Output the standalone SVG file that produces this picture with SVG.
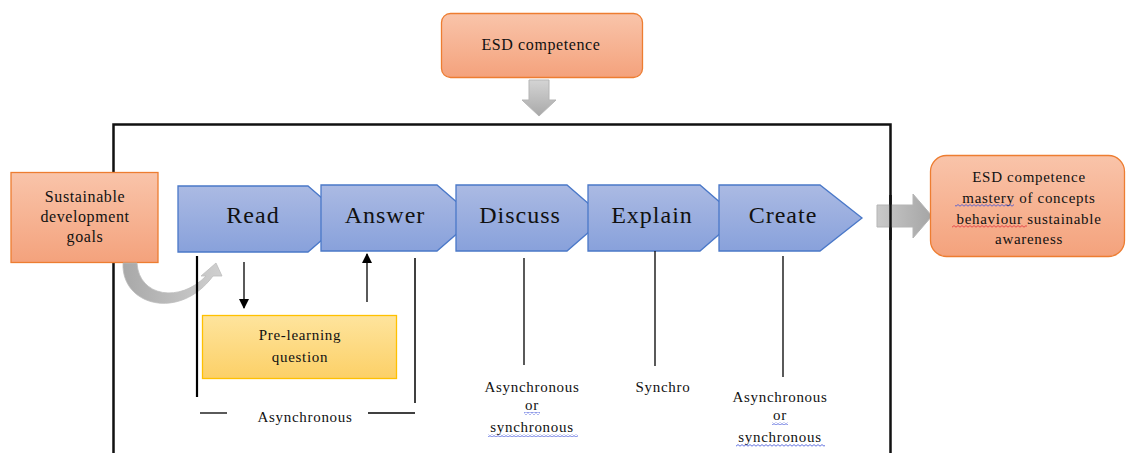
<svg xmlns="http://www.w3.org/2000/svg" width="1126" height="453" viewBox="0 0 1126 453">
<defs>
<linearGradient id="gOr" x1="0" y1="0" x2="0" y2="1"><stop offset="0" stop-color="#f9c4aa"/><stop offset="1" stop-color="#f4a27c"/></linearGradient>
<linearGradient id="gBl" x1="0" y1="0" x2="0" y2="1"><stop offset="0" stop-color="#abbae3"/><stop offset="1" stop-color="#88a1db"/></linearGradient>
<linearGradient id="gYe" x1="0" y1="0" x2="0" y2="1"><stop offset="0" stop-color="#fee49d"/><stop offset="1" stop-color="#fcd067"/></linearGradient>
<linearGradient id="gGr" x1="0" y1="0" x2="0" y2="1"><stop offset="0" stop-color="#d4d4d4"/><stop offset="1" stop-color="#a9a9a9"/></linearGradient>
<linearGradient id="gGrC" x1="0" y1="0" x2="1" y2="0"><stop offset="0" stop-color="#a8a8a8"/><stop offset="1" stop-color="#d0d0d0"/></linearGradient>
<linearGradient id="gGrH" x1="0" y1="0" x2="1" y2="0"><stop offset="0" stop-color="#c9c9c9"/><stop offset="1" stop-color="#a5a5a5"/></linearGradient>
<marker id="ah" viewBox="0 0 10 10" refX="9" refY="5" markerWidth="10" markerHeight="12" markerUnits="userSpaceOnUse" orient="auto"><path d="M0,0 L10,5 L0,10 Z" fill="#000"/></marker>
<pattern id="wB" width="4" height="3" patternUnits="userSpaceOnUse"><path d="M0,2.2 L2,0.6 L4,2.2" fill="none" stroke="#3b4fd8" stroke-width="0.8"/></pattern>
<pattern id="wR" width="4" height="3" patternUnits="userSpaceOnUse"><path d="M0,2.2 L2,0.6 L4,2.2" fill="none" stroke="#e0303a" stroke-width="0.8"/></pattern>
</defs>
<style>
.t{font-family:"Liberation Serif","Times New Roman",serif;fill:#111;text-anchor:middle}
.s15{font-size:15px;letter-spacing:0.7px}
.s16{font-size:16px;letter-spacing:0.6px}
.big{font-size:24px;letter-spacing:1px}
.or{fill:url(#gOr);stroke:#ed7d31;stroke-width:1.3}
.bl{fill:url(#gBl);stroke:#4a78c8;stroke-width:1.3}
.ye{fill:url(#gYe);stroke:#ffc000;stroke-width:1.3}
.gr{fill:url(#gGr);stroke:#b5b5b5;stroke-width:1}
.ln{stroke:#000;fill:none}
</style>
<rect width="1126" height="453" fill="#fff"/>

<!-- big frame -->
<path d="M113.5,460 L113.5,124.5 L890.5,124.5 L890.5,460" fill="none" stroke="#111" stroke-width="2.5"/>

<g id="esd-top">
<rect class="or" x="441.5" y="13.5" width="201" height="64" rx="9"/>
<text class="t s16" x="541" y="50">ESD competence</text>
</g>
<g id="arrow-top">
<path class="gr" d="M529,80 L549,80 L549,100 L556,100 L539,116 L522,100 L529,100 Z"/>
</g>

<g id="arrow-right">
<path fill="url(#gGrH)" stroke="#b5b5b5" d="M877,205 L913,205 L913,194 L932,216 L913,238 L913,227 L877,227 Z"/>
</g>
<line x1="890.5" y1="195" x2="890.5" y2="240" stroke="#111" stroke-width="2.5"/>

<g id="sdg">
<rect class="or" x="11" y="172.5" width="147" height="90"/>
<text class="t s16" x="85" y="202">Sustainable</text>
<text class="t s16" x="85" y="222">development</text>
<text class="t s16" x="85" y="242">goals</text>
</g>

<g id="curve-arrow">
<path fill="url(#gGrC)" stroke="#bdbdbd" stroke-width="0.8" d="M123,263 C121,306 180,321 213,276 L222,276 L216,263 L201,276 L206,276 C180,303 139,297 137,263 Z"/>
</g>

<g id="read"><path class="bl" d="M178,186 L308,186 L346,219 L308,252 L178,252 Z"/><text class="t big" x="253" y="223">Read</text></g>
<g id="answer"><path class="bl" d="M321,185 L437,185 L475,218 L437,251 L321,251 Z"/><text class="t big" x="385" y="223">Answer</text></g>
<g id="discuss"><path class="bl" d="M456,185 L567,185 L605,218 L567,251 L456,251 Z"/><text class="t big" x="520" y="223">Discuss</text></g>
<g id="explain"><path class="bl" d="M588,185 L700,185 L738,218 L700,251 L588,251 Z"/><text class="t big" x="652" y="223">Explain</text></g>
<g id="create"><path class="bl" d="M719,185 L820,185 L862,218 L820,251 L719,251 Z"/><text class="t big" x="783" y="223">Create</text></g>

<g id="esd-right">
<rect class="or" x="930.5" y="155.5" width="194" height="101" rx="16"/>
<text class="t s15" x="1029" y="182">ESD competence</text>
<text class="t s15" x="1029" y="203">mastery of concepts</text>
<text class="t s15" x="1029" y="224">behaviour sustainable</text>
<text class="t s15" x="1029" y="244">awareness</text>
<rect x="955" y="204" width="59" height="3" fill="url(#wB)"/>
<rect x="952" y="225" width="75" height="3" fill="url(#wR)"/>
</g>

<g id="prelearning">
<rect class="ye" x="202.5" y="315.5" width="194" height="63"/>
<text class="t s15" x="300" y="340">Pre-learning</text>
<text class="t s15" x="300" y="362">question</text>
</g>

<g id="connectors">
<line class="ln" x1="197" y1="256" x2="197" y2="397" stroke-width="2.2"/>
<line class="ln" x1="244" y1="262" x2="244" y2="308" stroke-width="1.3" marker-end="url(#ah)"/>
<line class="ln" x1="367" y1="302" x2="367" y2="254" stroke-width="1.3" marker-end="url(#ah)"/>
<line class="ln" x1="415" y1="258" x2="415" y2="403" stroke-width="1.5"/>
<line class="ln" x1="200" y1="413" x2="227" y2="413" stroke-width="1.3"/>
<line class="ln" x1="368" y1="413" x2="415" y2="413" stroke-width="1.3"/>
<line class="ln" x1="524" y1="258" x2="524" y2="365" stroke-width="1.3"/>
<line class="ln" x1="655" y1="251" x2="655" y2="366" stroke-width="1.3"/>
<line class="ln" x1="783" y1="256" x2="783" y2="377" stroke-width="1.3"/>
</g>

<g id="labels">
<text class="t s15" x="305" y="422">Asynchronous</text>
<text class="t s15" x="532" y="392">Asynchronous</text>
<text class="t s15" x="532" y="410">or</text>
<text class="t s15" x="532" y="432">synchronous</text>
<rect x="524" y="412" width="16" height="3" fill="url(#wB)"/>
<rect x="488" y="434" width="90" height="3" fill="url(#wB)"/>
<text class="t s15" x="663" y="392">Synchro</text>
<text class="t s15" x="780" y="402">Asynchronous</text>
<text class="t s15" x="780" y="420">or</text>
<text class="t s15" x="780" y="442">synchronous</text>
<rect x="772" y="422" width="16" height="3" fill="url(#wB)"/>
<rect x="736" y="444" width="89" height="3" fill="url(#wB)"/>
</g>
</svg>
